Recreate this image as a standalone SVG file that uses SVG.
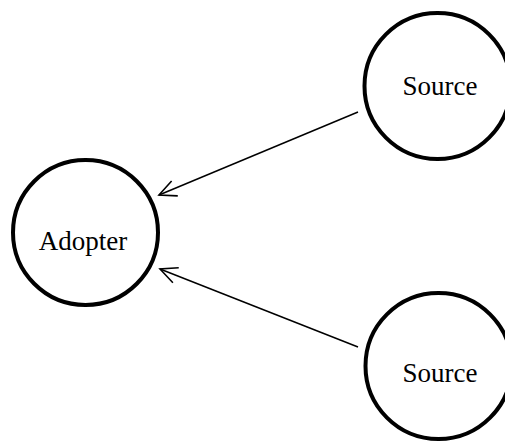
<svg xmlns="http://www.w3.org/2000/svg" width="505" height="441" viewBox="0 0 505 441">
<style>
.node circle{fill:#fff;stroke:#000;stroke-width:4}
.node text{font-family:"Liberation Serif","Times New Roman",serif;font-size:27px;fill:#000;text-anchor:middle}
.edge{stroke:#000;stroke-width:1.5;fill:none}
</style>
<defs>
<marker id="arr" markerUnits="userSpaceOnUse" markerWidth="24" markerHeight="24" viewBox="-20 -12 24 24" refX="0" refY="0" orient="auto">
<path d="M-17,-8 L0,0 L-17,8" fill="none" stroke="#000" stroke-width="1.6"/>
</marker>
</defs>
<g id="connectors">
<line class="edge" x1="358" y1="112" x2="159" y2="195" marker-end="url(#arr)"/>
<line class="edge" x1="358" y1="347" x2="160" y2="269" marker-end="url(#arr)"/>
</g>
<g id="adopter" class="node">
<circle cx="85.5" cy="232.5" r="72.5"/>
<text x="83" y="250">Adopter</text>
</g>
<g id="source1" class="node">
<circle cx="437.5" cy="86" r="73"/>
<text x="440" y="95">Source</text>
</g>
<g id="source2" class="node">
<circle cx="438.5" cy="366" r="73"/>
<text x="440" y="382">Source</text>
</g>
</svg>
